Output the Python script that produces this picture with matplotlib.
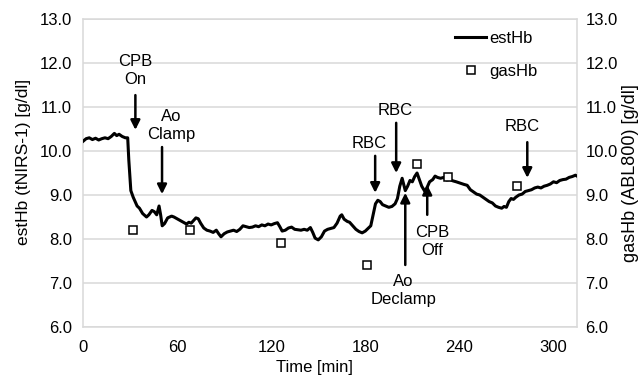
import matplotlib
matplotlib.use('Agg')
import matplotlib.pyplot as plt

plt.rcParams['font.family'] = ['Liberation Sans', 'DejaVu Sans']

# ── estHb (tNIRS-1) 連続値 ────────────────────────────────
est_t = [0, 2, 4, 6, 8, 10, 12, 14, 16, 18, 20, 21.5, 23, 25, 27, 28.5, 29.2, 30.5,
         32, 34.5, 36, 38, 40.5, 42, 44, 45.5, 47, 48.5, 49.5, 50.5, 52, 54, 56.5,
         58, 60, 62, 64, 66, 67.5, 69, 70.5, 72, 73.5, 75, 77, 79, 81, 83, 85, 86.5,
         88, 90, 92, 94, 96, 98, 100, 102, 104, 106, 108, 110, 112, 114, 116, 118,
         120, 122, 124, 125.5, 127, 129, 131, 133, 135, 137, 139, 141, 143, 145,
         146.5, 148, 150, 152, 154, 156, 158, 160, 162, 164, 165, 166.5, 168.5, 170,
         172, 174, 176, 178, 180, 182, 183.5, 185, 186.5, 188, 189.5, 191, 193, 195,
         197, 199, 200.5, 202, 203.5, 205.5, 207, 208.5, 210, 211.5, 213, 214.5, 216,
         218, 219.5, 221, 223, 224.5, 226, 228, 230, 232, 234, 236, 238, 240.5, 243,
         245, 247, 249, 251, 253, 255, 257, 259, 261, 263, 265, 267, 268.5, 270,
         271.5, 273, 274.5, 276, 278, 280, 282, 284, 286, 288, 290, 292, 294, 296,
         298, 300, 302, 304, 306, 308, 310, 312, 314, 315]
est_hb = [10.22, 10.28, 10.30, 10.26, 10.29, 10.25, 10.28, 10.30, 10.28, 10.33, 10.40,
          10.35, 10.38, 10.33, 10.30, 10.30, 9.80, 9.10,
          8.95, 8.75, 8.70, 8.58, 8.50, 8.55, 8.65, 8.62, 8.55, 8.75, 8.55, 8.30, 8.35,
          8.48, 8.52, 8.50, 8.46, 8.42, 8.38, 8.34, 8.38, 8.36, 8.42, 8.48, 8.46, 8.36,
          8.25, 8.20, 8.18, 8.15, 8.20, 8.12, 8.05, 8.12, 8.16, 8.18, 8.20, 8.17, 8.22,
          8.30, 8.28, 8.26, 8.27, 8.30, 8.28, 8.32, 8.30, 8.34, 8.32, 8.35, 8.37, 8.28,
          8.18, 8.20, 8.25, 8.27, 8.22, 8.21, 8.20, 8.22, 8.20, 8.26, 8.15, 8.02, 7.98,
          8.05, 8.18, 8.22, 8.24, 8.26, 8.36, 8.52, 8.55, 8.45, 8.40, 8.38, 8.30, 8.22,
          8.17, 8.14, 8.18, 8.25, 8.30, 8.55, 8.80, 8.88, 8.85, 8.78, 8.75, 8.72, 8.74,
          8.80, 8.92, 9.20, 9.38, 9.10, 9.20, 9.33, 9.30, 9.42, 9.50, 9.35, 9.20, 9.08,
          9.18, 9.30, 9.35, 9.43, 9.40, 9.38, 9.40, 9.34, 9.35, 9.32, 9.30, 9.27, 9.24,
          9.22, 9.12, 9.07, 9.02, 9.00, 8.95, 8.90, 8.85, 8.82, 8.75, 8.72, 8.70, 8.74,
          8.72, 8.85, 8.92, 8.90, 8.95, 9.00, 9.02, 9.08, 9.10, 9.12, 9.16, 9.18, 9.16,
          9.20, 9.22, 9.25, 9.30, 9.28, 9.33, 9.35, 9.36, 9.40, 9.42, 9.45, 9.43]

# ── gasHb (ABL800) 採血値 ────────────────────────────────
gas_t = [32, 68, 126, 181, 213, 233, 277]
gas_hb = [8.2, 8.2, 7.9, 7.4, 9.7, 9.4, 9.2]

# ── イベント注記: (ラベル, 文字位置, 矢印の根元, 矢印の先) ─────────
events = [
    ('CPB\nOn',      (33.2, 11.84), (33.4, 11.27), (33.4, 10.48)),
    ('Ao\nClamp',    (56.5, 10.59), (50.4, 10.09), (50.4, 9.02)),
    ('RBC',          (182.5, 10.18), (186.3, 9.89), (186.3, 9.05)),
    ('RBC',          (199.0, 10.93), (199.7, 10.64), (199.7, 9.50)),
    ('RBC',          (280.0, 10.55), (283.3, 10.20), (283.3, 9.39)),
    ('Ao\nDeclamp',  (204.3, 6.84), (205.5, 7.41), (205.5, 9.05)),
    ('CPB\nOff',     (222.7, 7.95), (219.5, 8.55), (219.5, 9.23)),
]

GRAY = '#d9d9d9'
FS = 12

fig = plt.figure(figsize=(6.4, 3.8), dpi=100)
ax = fig.add_axes([83 / 640, 1 - 327 / 380, 494 / 640, 308 / 380])

ax.plot(est_t, est_hb, color='black', lw=2.2, label='estHb', zorder=3,
        solid_joinstyle='round')
ax.plot(gas_t, gas_hb, ls='none', marker='s', ms=5.5, mfc='white', mec='black',
        mew=1.1, label='gasHb', zorder=4)

for label, txt, tail, tip in events:
    ax.annotate('', xy=tip, xytext=tail,
                arrowprops=dict(arrowstyle='-|>', color='black', lw=1.8,
                                mutation_scale=14, shrinkA=0, shrinkB=0))
    ax.text(txt[0], txt[1], label, ha='center', va='center', fontsize=FS,
            linespacing=1.25)

ax.set_xlim(0, 315)
ax.set_ylim(6, 13)
ax.set_xticks([0, 60, 120, 180, 240, 300])
ax.set_yticks([6, 7, 8, 9, 10, 11, 12, 13])
ax.set_yticklabels([f'{v:.1f}' for v in range(6, 14)])
ax.grid(axis='y', color=GRAY, lw=1.1)
ax.set_axisbelow(True)
for s in ax.spines.values():
    s.set_color(GRAY)
    s.set_linewidth(1.1)
ax.tick_params(axis='both', length=0, labelsize=FS)
ax.tick_params(axis='y', pad=8)
ax.tick_params(axis='x', pad=9)

ax2 = ax.twinx()
ax2.set_ylim(6, 13)
ax2.set_yticks([6, 7, 8, 9, 10, 11, 12, 13])
ax2.set_yticklabels([f'{v:.1f}' for v in range(6, 14)])
ax2.tick_params(axis='y', length=0, labelsize=FS, pad=6)
for s in ax2.spines.values():
    s.set_visible(False)

ax.set_xlabel('Time [min]', fontsize=FS)
ax.xaxis.set_label_coords(0.468, -0.107)

fig.text(28 / 640, 1 - 162 / 380, 'estHb (tNIRS-1) [g/dl]', rotation=90,
         rotation_mode='anchor', ha='center', va='baseline', fontsize=12.5)
fig.text(635 / 640, 1 - 173 / 380, 'gasHb (ABL800) [g/dl]', rotation=90,
         rotation_mode='anchor', ha='center', va='baseline', fontsize=13)

ax.legend(loc='upper left', bbox_to_anchor=(0.739, 0.984), frameon=False,
          fontsize=FS, handlelength=1.9, handletextpad=0.2, labelspacing=1.1,
          borderaxespad=0)

fig.savefig('out.png', dpi=100)
